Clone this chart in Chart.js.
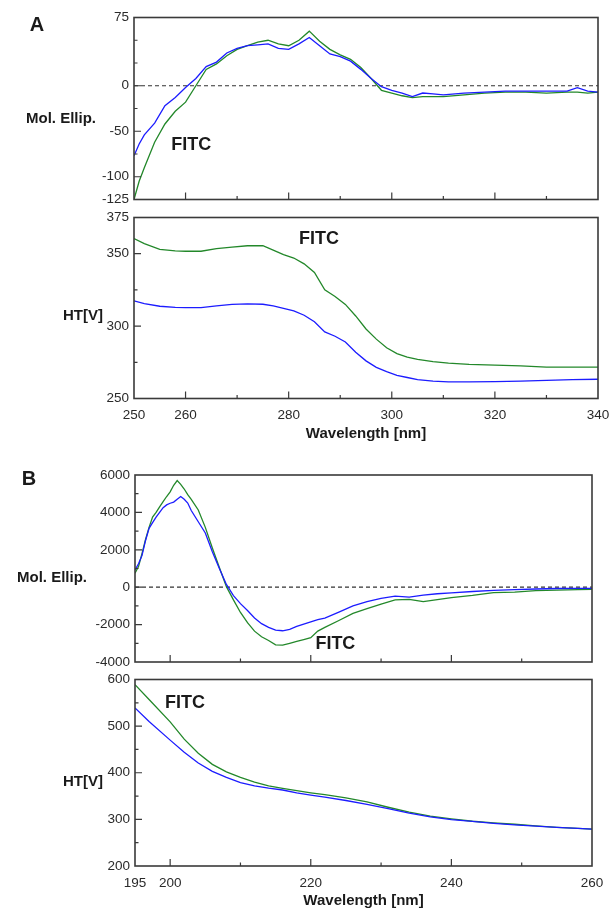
<!DOCTYPE html>
<html>
<head>
<meta charset="utf-8">
<script src="https://cdn.jsdelivr.net/npm/chart.js@4.4.1/dist/chart.umd.min.js"></script>
<style>
html, body { margin: 0; padding: 0; background: #fff; }
#wrap { position: relative; width: 611px; height: 908px; }
canvas { position: absolute; left: 0; }
</style>
</head>
<body>
<div id="wrap">
<canvas id="a1" width="611" height="208" style="top:0px"></canvas>
<canvas id="a2" width="611" height="237" style="top:208px"></canvas>
<canvas id="b1" width="611" height="208" style="top:460px"></canvas>
<canvas id="b2" width="611" height="240" style="top:668px"></canvas>
</div>
<script>
Chart.defaults.font.family = "'Liberation Sans', Arial, sans-serif"

const BLUE = '#1c1cff'
const GREEN = '#23882a'

// Panel A, near-UV CD (Mol. Ellip.)
const wlA1 = [250,251,252,254,256,258,260,262,264,266,268,270,272,274,276,278,280,282,284,286,288,290,292,294,296,298,300,302,304,306,308,310,314,318,322,326,330,334,336,338,340]
const blueA1 = [-77,-64,-54,-41,-22,-13,-2,8,21,26,36,41,44,45,46,41,40,46,53,44,35,32,27,18,8,-1,-5,-8,-12,-8,-9,-10,-8,-7,-6,-6,-6,-6,-2,-6,-7]
const greenA1 = [-125,-105,-90,-62,-42,-28,-18,0,18,24,33,40,44,48,50,46,44,50,60,49,40,34,29,20,8,-5,-8,-11,-13,-12,-12,-12,-10,-8,-7,-7,-8,-7,-7,-8,-7]

// Panel A, HT voltage
const wlA2 = [250,252,255,258,260,263,266,269,272,275,277,279,281,283,285,287,289,291,293,295,297,299,301,303,305,308,311,315,320,325,330,335,340]
const blueA2 = [317.4,315.5,313.7,313,312.8,312.8,314,315,315.3,315.1,314,312.2,310.5,307.5,303,296,293,289,282,276,271.5,268.5,266,264.5,263,262,261.5,261.5,261.6,262,262.5,263,263.3]
const greenA2 = [360.5,357,353,352,351.7,351.7,353.5,354.5,355.5,355.5,352.5,349.4,347,343,337,325,320.5,315,307,298,291,285,281,278.5,277,275.5,274.5,273.5,273,272.5,271.6,271.6,271.6]

// Panel B, far-UV CD (Mol. Ellip.)
const wlB1 = [195,195.5,196,196.5,197,197.5,198,198.5,199,199.5,200,200.5,201,201.5,202,202.5,203,204,205,206,207,208,209,210,211,212,213,214,215,216,217,218,219,220,221,222,224,226,228,230,232,234,236,238,240,243,246,249,252,255,258,260]
const blueB1 = [920,1250,1700,2500,3150,3450,3750,4000,4250,4400,4490,4550,4700,4850,4700,4500,4100,3500,2900,1900,1000,150,-450,-880,-1250,-1650,-1950,-2150,-2300,-2330,-2250,-2100,-1970,-1850,-1730,-1650,-1330,-1000,-770,-600,-480,-530,-420,-350,-300,-230,-170,-130,-95,-70,-60,-59]
const greenB1 = [750,1100,1800,2550,3200,3750,4000,4300,4570,4850,5100,5450,5700,5500,5250,4950,4700,4130,3200,2100,1050,30,-680,-1350,-1900,-2350,-2650,-2850,-3080,-3100,-3000,-2900,-2800,-2700,-2350,-2150,-1780,-1400,-1150,-900,-680,-647,-775,-660,-560,-440,-294,-260,-180,-160,-130,-112]

// Panel B, HT voltage
const wlB2 = [195,197,200,202,204,206,208,210,212,214,216,218,220,222,225,228,231,234,237,240,243,246,249,252,255,258,260]
const blueB2 = [539,510,470,444,421,403,390,379,372,367,363,357,352,347.5,340.5,332,323,313.5,305.5,299.5,295.5,291.5,288,285.5,283,280.5,279.2]
const greenB2 = [589,557,509,472,442,418,402,390,380,372,366.5,361.5,357,353,346,337.5,326,315.5,307,301,296,292.5,289.5,286,283,280.5,279.2]

// tick labels
const xLabelsA = [250, 260, 280, 300, 320, 340]
const xLabelsB = [195, 200, 220, 240, 260]
const yLabelsA1 = [75, 0, -50, -100, -125]
const yLabelsA2 = [375, 350, 300, 250]
const yLabelsB1 = [6000, 4000, 2000, 0, -2000, -4000]
const yLabelsB2 = [600, 500, 400, 300, 200]

// tick marks (inside the frame)
const xMajorA = [260, 280, 300, 320], xMinorA = [270, 290, 310, 330]
const xMajorB = [200, 220, 240], xMinorB = [210, 230, 250]

const toXY = (xs, ys) => xs.map((x, i) => ({x: x, y: ys[i]}))

const panelPlugin = {
	id: 'panel',
	beforeDatasetsDraw(chart, args, o) {
		if (!o.zeroLine) return
		const ctx = chart.ctx, a = chart.chartArea
		const y = chart.scales.y.getPixelForValue(0)
		ctx.save()
		ctx.strokeStyle = '#333'
		ctx.lineWidth = 1.2
		ctx.setLineDash([4, 3])
		ctx.beginPath(); ctx.moveTo(a.left, y); ctx.lineTo(a.right, y); ctx.stroke()
		ctx.restore()
	},
	afterDatasetsDraw(chart, args, o) {
		const ctx = chart.ctx, a = chart.chartArea
		const xs = chart.scales.x, ys = chart.scales.y
		ctx.save()
		ctx.strokeStyle = '#3a3a3a'
		ctx.lineWidth = 1.6
		ctx.strokeRect(a.left, a.top, a.right - a.left, a.bottom - a.top)
		ctx.lineWidth = 1.2
		ctx.beginPath()
		o.xMajor.forEach(v => { const x = xs.getPixelForValue(v); ctx.moveTo(x, a.bottom); ctx.lineTo(x, a.bottom - 7) })
		o.xMinor.forEach(v => { const x = xs.getPixelForValue(v); ctx.moveTo(x, a.bottom); ctx.lineTo(x, a.bottom - 3.5) })
		o.yMajor.forEach(v => { const y = ys.getPixelForValue(v); ctx.moveTo(a.left, y); ctx.lineTo(a.left + 7, y) })
		o.yMinor.forEach(v => { const y = ys.getPixelForValue(v); ctx.moveTo(a.left, y); ctx.lineTo(a.left + 3.5, y) })
		ctx.stroke()
		ctx.restore()
	},
	afterDraw(chart, args, o) {
		const ctx = chart.ctx
		ctx.save()
		ctx.fillStyle = '#1a1a1a'
		ctx.textAlign = 'center'
		ctx.textBaseline = 'middle'
		if (o.letter) {
			ctx.font = "bold 20px 'Liberation Sans', Arial, sans-serif"
			ctx.fillText(o.letter.text, o.letter.x, o.letter.y)
		}
		ctx.font = "bold 15px 'Liberation Sans', Arial, sans-serif"
		ctx.fillText(o.side.text, o.side.x, o.side.y)
		ctx.font = "bold 18px 'Liberation Sans', Arial, sans-serif"
		ctx.fillText('FITC', chart.scales.x.getPixelForValue(o.fitc[0]), chart.scales.y.getPixelForValue(o.fitc[1]))
		ctx.restore()
	}
}

function makePanel(id, p) {
	return new Chart(document.getElementById(id), {
		type: 'line',
		data: {
			datasets: [
				{data: toXY(p.wl, p.blue), borderColor: BLUE},
				{data: toXY(p.wl, p.green), borderColor: GREEN},
			]
		},
		options: {
			responsive: false,
			animation: false,
			events: [],
			layout: { padding: { top: p.top, right: 611 - p.right, bottom: 0, left: 0 } },
			elements: { point: { radius: 0 }, line: { borderWidth: 1.3, tension: 0 } },
			plugins: {
				legend: { display: false },
				tooltip: { enabled: false },
				panel: p.marks
			},
			scales: {
				x: {
					type: 'linear', min: p.xMin, max: p.xMax,
					afterBuildTicks: s => { s.ticks = p.xLabels.map(v => ({value: v})) },
					afterFit: s => { s.height = p.xAxisH; s.paddingLeft = 0; s.paddingRight = 0 },
					grid: { display: false, drawTicks: false }, border: { display: false },
					ticks: { display: p.showX, autoSkip: false, maxRotation: 0, padding: 9,
						color: '#2a2a2a', font: { size: 13.5 }, callback: v => String(v) },
					title: { display: p.showX, text: 'Wavelength [nm]', color: '#1a1a1a',
						font: { size: 15, weight: 'bold' }, padding: { top: 0, bottom: p.titlePad } }
				},
				y: {
					min: p.yMin, max: p.yMax,
					afterBuildTicks: s => { s.ticks = p.yLabels.map(v => ({value: v})) },
					afterFit: s => { s.width = p.left; s.paddingTop = 0; s.paddingBottom = 0 },
					grid: { display: false, drawTicks: false }, border: { display: false },
					ticks: { autoSkip: false, padding: 5, color: '#2a2a2a', font: { size: 13.5 }, callback: v => String(v) }
				}
			}
		},
		plugins: [panelPlugin]
	})
}

makePanel('a1', {
	wl: wlA1, blue: blueA1, green: greenA1,
	xMin: 250, xMax: 340, yMin: -125, yMax: 75,
	xLabels: xLabelsA, yLabels: yLabelsA1, showX: false,
	left: 134, right: 598, top: 17.5, xAxisH: 8.5, titlePad: 0,
	marks: { zeroLine: true, xMajor: xMajorA, xMinor: xMinorA,
		yMajor: [0, -50, -100], yMinor: [50, 25, -25, -75],
		letter: {text: 'A', x: 37, y: 25}, side: {text: 'Mol. Ellip.', x: 61, y: 119},
		fitc: [261.1, -65.5] }
})

makePanel('a2', {
	wl: wlA2, blue: blueA2, green: greenA2,
	xMin: 250, xMax: 340, yMin: 250, yMax: 375,
	xLabels: xLabelsA, yLabels: yLabelsA2, showX: true,
	left: 134, right: 598, top: 9.5, xAxisH: 46.5, titlePad: 2,
	marks: { zeroLine: false, xMajor: xMajorA, xMinor: xMinorA,
		yMajor: [350, 300], yMinor: [325, 275],
		side: {text: 'HT[V]', x: 83, y: 108},
		fitc: [285.9, 360] }
})

makePanel('b1', {
	wl: wlB1, blue: blueB1, green: greenB1,
	xMin: 195, xMax: 260, yMin: -4000, yMax: 6000,
	xLabels: xLabelsB, yLabels: yLabelsB1, showX: false,
	left: 135, right: 592, top: 15, xAxisH: 6, titlePad: 0,
	marks: { zeroLine: true, xMajor: xMajorB, xMinor: xMinorB,
		yMajor: [4000, 2000, 0, -2000], yMinor: [5000, 3000, 1000, -1000, -3000],
		letter: {text: 'B', x: 29, y: 19}, side: {text: 'Mol. Ellip.', x: 52, y: 118},
		fitc: [223.5, -3037] }
})

makePanel('b2', {
	wl: wlB2, blue: blueB2, green: greenB2,
	xMin: 195, xMax: 260, yMin: 200, yMax: 600,
	xLabels: xLabelsB, yLabels: yLabelsB2, showX: true,
	left: 135, right: 592, top: 11.5, xAxisH: 42, titlePad: -2,
	marks: { zeroLine: false, xMajor: xMajorB, xMinor: xMinorB,
		yMajor: [500, 400, 300], yMinor: [550, 450, 350, 250],
		side: {text: 'HT[V]', x: 83, y: 114},
		fitc: [202.1, 549] }
})
</script>
</body>
</html>
